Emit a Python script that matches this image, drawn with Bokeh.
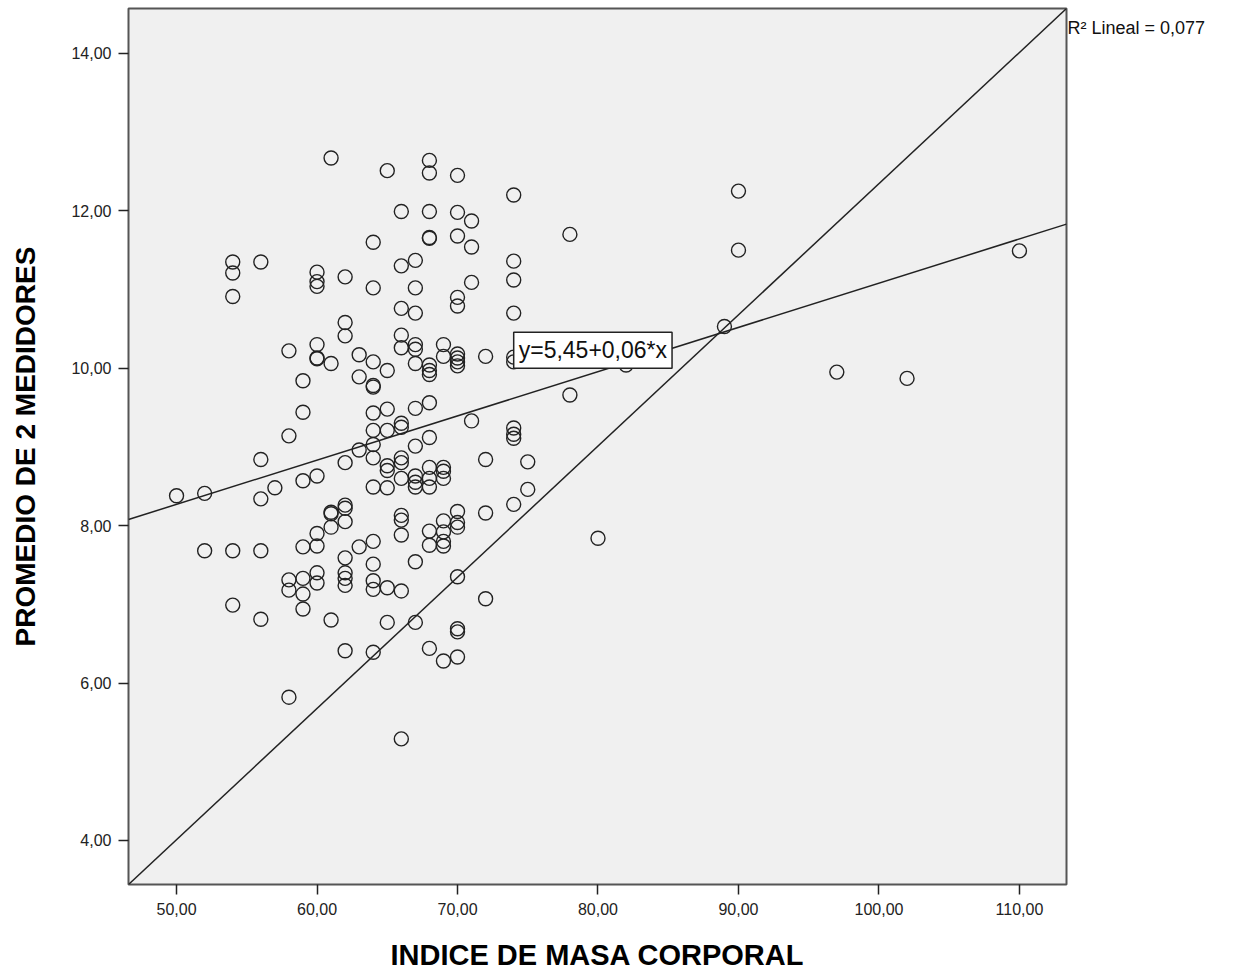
from bokeh.plotting import figure
from bokeh.models import Range1d, FixedTicker, Label, LinearAxis
from bokeh.embed import file_html
from bokeh.resources import INLINE

# ---- data ----
bmi = [50,
       52, 52,
       54, 54, 54, 54, 54,
       56, 56, 56, 56, 56,
       57,
       58, 58, 58, 58, 58,
       59, 59, 59, 59, 59, 59, 59,
       60, 60, 60, 60, 60, 60, 60, 60, 60, 60, 60,
       61, 61, 61, 61, 61, 61,
       62, 62, 62, 62, 62, 62, 62, 62, 62, 62, 62, 62,
       63, 63, 63, 63,
       64, 64, 64, 64, 64, 64, 64, 64, 64, 64, 64, 64, 64, 64, 64,
       65, 65, 65, 65, 65, 65, 65, 65, 65,
       66, 66, 66, 66, 66, 66, 66, 66, 66, 66, 66, 66, 66, 66, 66,
       67, 67, 67, 67, 67, 67, 67, 67, 67, 67, 67, 67, 67,
       68, 68, 68, 68, 68, 68, 68, 68, 68, 68, 68, 68, 68, 68, 68, 68,
       69, 69, 69, 69, 69, 69, 69, 69, 69, 69,
       70, 70, 70, 70, 70, 70, 70, 70, 70, 70, 70, 70, 70, 70, 70, 70,
       71, 71, 71, 71,
       72, 72, 72, 72,
       74, 74, 74, 74, 74, 74, 74, 74, 74, 74,
       75, 75,
       78, 78,
       80,
       82,
       89,
       90, 90,
       97,
       102,
       110]

promedio = [8.38,
            8.41, 7.68,
            11.35, 11.21, 10.91, 7.68, 6.99,
            11.35, 8.84, 8.34, 7.68, 6.81,
            8.48,
            10.22, 9.14, 7.31, 7.18, 5.82,
            9.84, 9.44, 8.57, 7.73, 7.33, 7.13, 6.94,
            11.22, 11.10, 11.04, 10.30, 10.13, 10.12, 8.63, 7.90, 7.74, 7.40, 7.27,
            12.67, 10.06, 8.17, 8.15, 7.98, 6.80,
            11.16, 10.58, 10.41, 8.80, 8.26, 8.22, 8.05, 7.59, 7.40, 7.33, 7.24, 6.41,
            10.17, 9.89, 8.96, 7.73,
            11.60, 11.02, 10.08, 9.78, 9.76, 9.43, 9.21, 9.03, 8.86, 8.49, 7.80, 7.51, 7.30, 7.19, 6.39,
            12.51, 9.97, 9.48, 9.21, 8.76, 8.70, 8.48, 7.21, 6.77,
            11.99, 11.30, 10.76, 10.42, 10.26, 9.30, 9.25, 8.86, 8.80, 8.60, 8.13, 8.07, 7.88, 7.17, 5.29,
            11.37, 11.02, 10.70, 10.30, 10.24, 10.06, 9.49, 9.01, 8.63, 8.55, 8.49, 7.54, 6.77,
            12.64, 12.48, 11.99, 11.66, 11.65, 10.04, 9.97, 9.92, 9.56, 9.12, 8.74, 8.60, 8.49, 7.93, 7.75, 6.44,
            10.30, 10.15, 8.74, 8.69, 8.60, 8.06, 7.92, 7.80, 7.74, 6.28,
            12.45, 11.98, 11.68, 10.90, 10.79, 10.18, 10.13, 10.08, 10.03, 8.18, 8.04, 7.98, 7.35, 6.69, 6.65, 6.33,
            11.87, 11.54, 11.09, 9.33,
            10.15, 8.84, 8.16, 7.07,
            12.20, 11.36, 11.12, 10.70, 10.14, 10.08, 9.24, 9.16, 9.11, 8.27,
            8.81, 8.46,
            11.70, 9.66,
            7.84,
            10.04,
            10.53,
            12.25, 11.50,
            9.95,
            9.87,
            11.49]

x_ticks = [50, 60, 70, 80, 90, 100, 110]
x_tick_labels = ["50,00", "60,00", "70,00", "80,00", "90,00", "100,00", "110,00"]
y_ticks = [4, 6, 8, 10, 12, 14]
y_tick_labels = ["4,00", "6,00", "8,00", "10,00", "12,00", "14,00"]

x_range = [46.58, 113.35]
y_range = [3.44, 14.57]

fit_intercept = 5.46
fit_slope = 0.0562
equation_text = "y=5,45+0,06*x"
equation_pos = [74.0, 10.0]
r2_text = "R\u00b2 Lineal = 0,077"
r2_level = 14.32

x_label = "INDICE DE MASA CORPORAL"
y_label = "PROMEDIO DE 2 MEDIDORES"

# ---- figure ----
TICK_FONT = "Liberation Sans"
LABEL_FONT = "Liberation Sans"

p = figure(width=1251, height=973, output_backend="svg", toolbar_location=None,
           x_range=Range1d(*x_range), y_range=Range1d(*y_range),
           min_border_left=128, min_border_right=185, min_border_top=8,
           min_border_bottom=89)

p.background_fill_color = "#F0F0F0"
p.border_fill_color = "white"
p.outline_line_color = "#555555"
p.outline_line_width = 2
p.xgrid.visible = False
p.ygrid.visible = False

for ax, ticks, labels in ((p.xaxis[0], x_ticks, x_tick_labels), (p.yaxis[0], y_ticks, y_tick_labels)):
    ax.ticker = FixedTicker(ticks=ticks)
    ax.major_label_overrides = {t: l for t, l in zip(ticks, labels)}
    ax.minor_tick_line_color = None
    ax.axis_line_color = None
    ax.major_tick_in = 0
    ax.major_tick_out = 10
    ax.major_tick_line_color = "#222222"
    ax.major_tick_line_width = 1.5
    ax.major_label_text_font = TICK_FONT
    ax.major_label_text_font_size = "16px"
    ax.major_label_text_color = "#222222"
    ax.axis_label_text_font = LABEL_FONT
    ax.axis_label_text_font_style = "bold"
    ax.axis_label_text_color = "black"

p.xaxis.axis_label = x_label
p.yaxis.axis_label = y_label
p.xaxis.axis_label_text_font_size = "29px"
p.yaxis.axis_label_text_font_size = "28px"
p.xaxis.major_label_standoff = 8
p.yaxis.major_label_standoff = 7
p.xaxis.axis_label_standoff = 21
p.yaxis.axis_label_standoff = 27

# R2 text shown in the right margin via a right-hand axis with a single labelled tick
r2_axis = LinearAxis(ticker=FixedTicker(ticks=[r2_level]),
                     major_label_overrides={r2_level: r2_text},
                     axis_line_color=None, major_tick_line_color=None,
                     minor_tick_line_color=None, major_tick_in=0, major_tick_out=0,
                     major_label_standoff=1,
                     major_label_text_font=TICK_FONT,
                     major_label_text_font_size="18px",
                     major_label_text_color="#111111")
p.add_layout(r2_axis, "right")

# diagonal reference line across the frame
p.line(x=x_range, y=y_range, line_color="#222222", line_width=1.5)

# fit line
fit_y = [fit_intercept + fit_slope * xv for xv in x_range]
p.line(x=x_range, y=fit_y, line_color="#222222", line_width=1.5)

# scatter
p.scatter(x=bmi, y=promedio, marker="circle", size=14, fill_color=None,
          line_color="#222222", line_width=1.4)

# equation label
p.add_layout(Label(x=equation_pos[0], y=equation_pos[1], text=equation_text,
                   text_font=TICK_FONT, text_font_size="23px", text_color="#111111",
                   background_fill_color="white", border_line_color="#222222",
                   border_line_width=1.5, padding=5))

open("out.html", "w").write(file_html(p, INLINE))
